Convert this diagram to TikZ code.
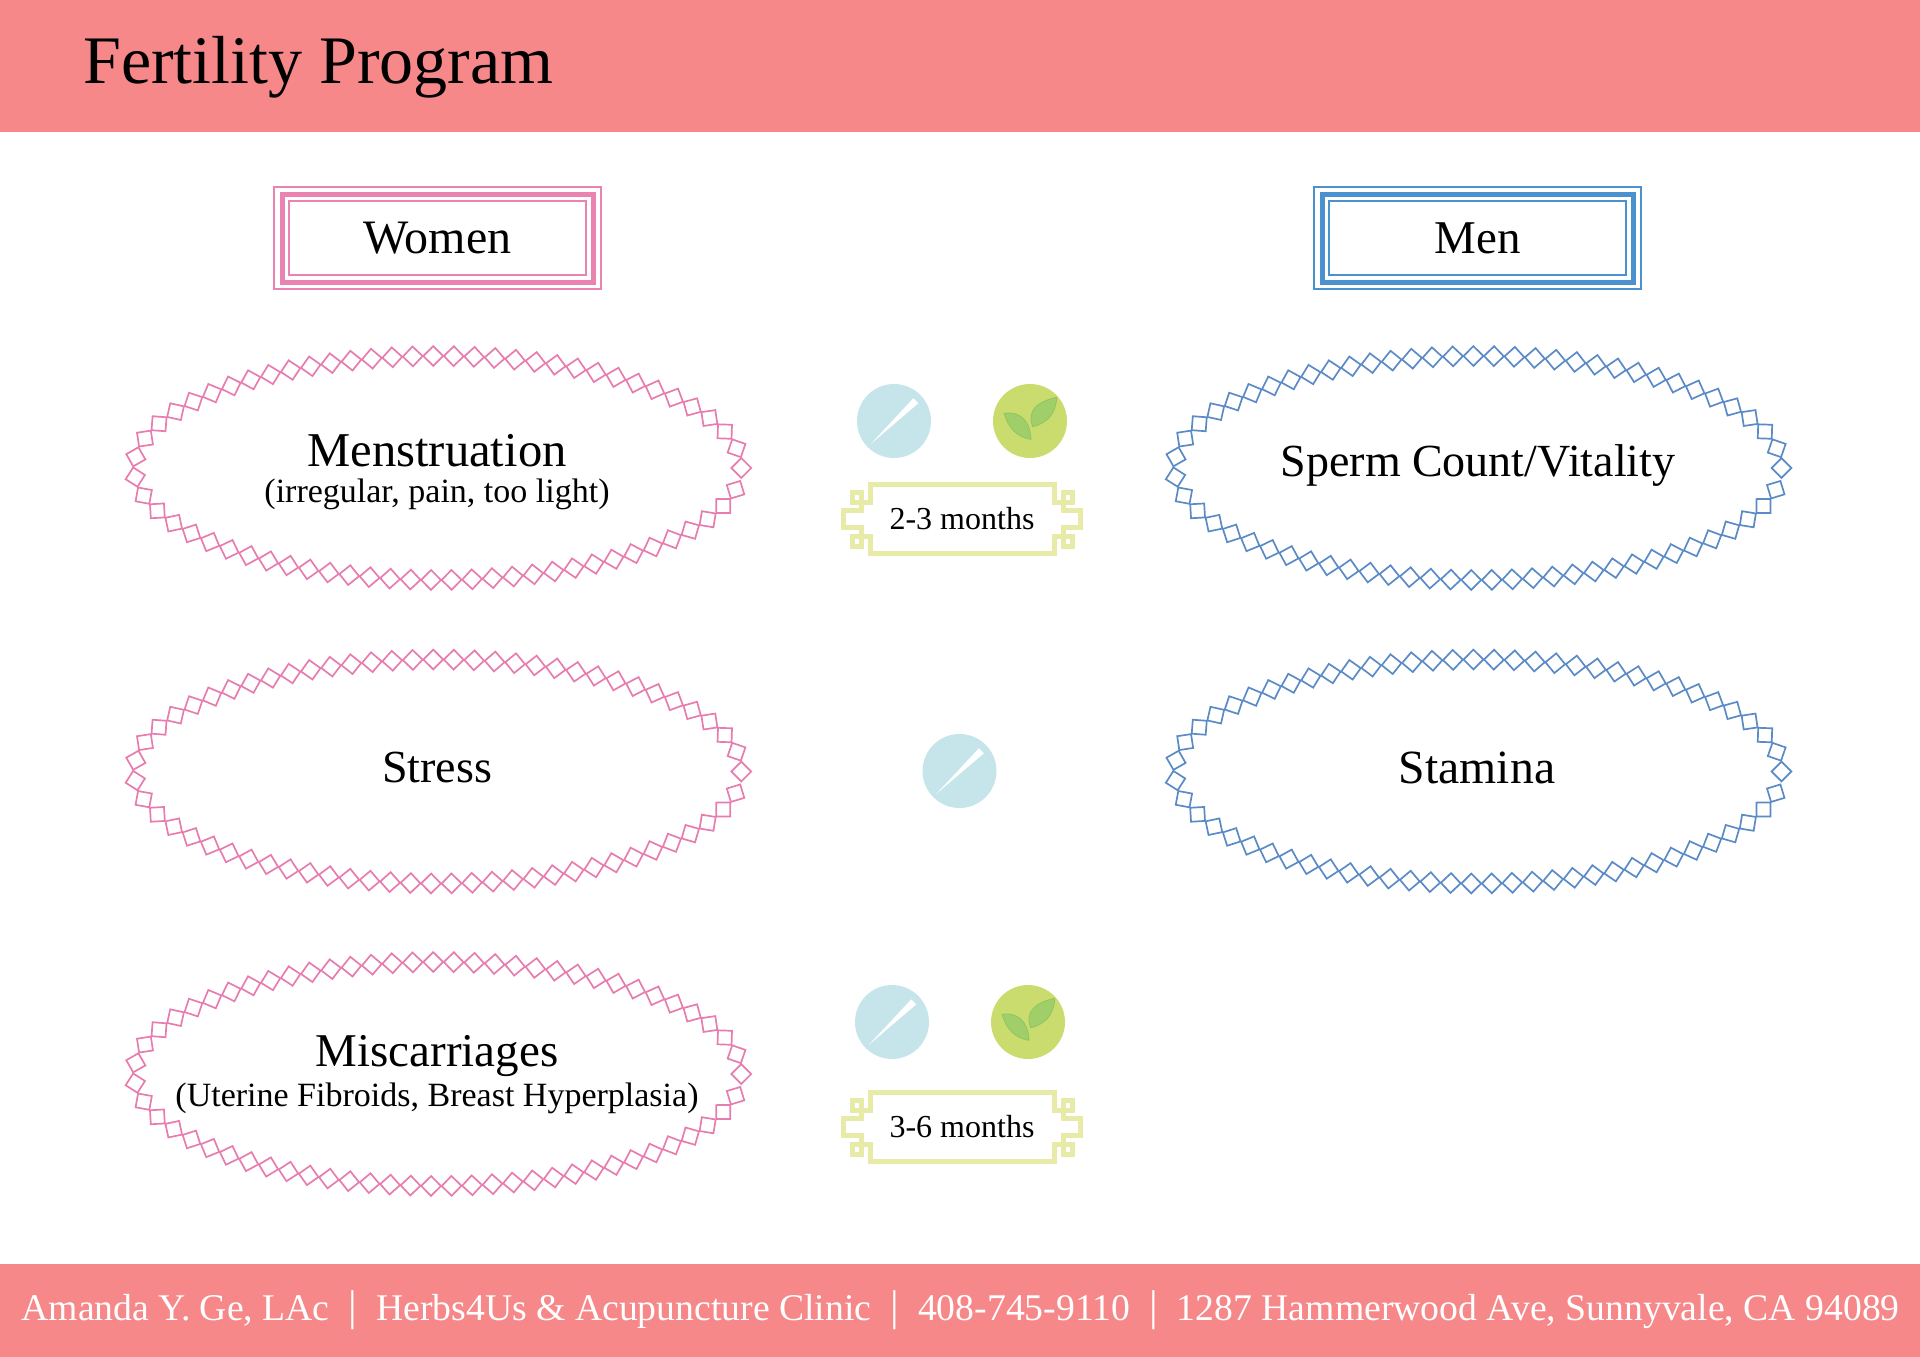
\documentclass[tikz,border=0pt]{standalone}
\usepackage{fontspec}
\setmainfont{Liberation Serif}
\usetikzlibrary{shapes.geometric}
\definecolor{banner}{HTML}{F6888A}
\definecolor{pinkring}{HTML}{E77DAF}
\definecolor{bluering}{HTML}{5B8BC6}
\definecolor{pinkbox}{HTML}{EA82B2}
\definecolor{bluebox}{HTML}{4A92CF}
\definecolor{pillblue}{HTML}{C5E5EA}
\definecolor{leafgreen}{HTML}{CADC6E}
\definecolor{leafdark}{HTML}{A0CF6A}
\definecolor{leafedge}{HTML}{8FC560}
\definecolor{framey}{HTML}{E8EBA8}
\newcommand{\fs}[1]{\fontsize{#1}{#1}\selectfont}
\newcommand{\sepbar}{\hspace{19pt}{\fs{43}|}\hspace{19pt}}
% one ring of corner-to-corner squares, spaced by equal arc length round an ellipse
\newcommand{\ringsquares}[2]{%
  \gdef\curt{0}%
  \foreach \k in {1,...,67}{%
    \pgfmathsetmacro\ang{atan2(1.12*cos(\curt),-3.035*sin(\curt))}%
    \pgfmathsetmacro\px{303.5*cos(\curt)}%
    \pgfmathsetmacro\py{-112*sin(\curt)}%
    \draw[draw=#2,line width=1.7pt,line join=miter,shift={(#1)},shift={(\px,\py)},rotate=\ang]
      (-9.9pt,0pt)--(0pt,9.9pt)--(9.9pt,0pt)--(0pt,-9.9pt)--cycle;
    \foreach \s in {1,2,3,4}{%
      \pgfmathsetmacro\tm{\curt+1.4682/sqrt(pow(3.035*sin(\curt),2)+pow(1.12*cos(\curt),2))}%
      \pgfmathsetmacro\tn{\curt+2.9364/sqrt(pow(3.035*sin(\tm),2)+pow(1.12*cos(\tm),2))}%
      \xdef\curt{\tn}%
    }%
  }%
}
\tikzset{
  ringbase/.style={ellipse,inner sep=0pt,minimum width=607pt,minimum height=224pt},
  big/.style={inner sep=0pt,text=black,font=\fs{#1}},
  small/.style={inner sep=0pt,text=black,font=\fs{34}},
  boxa/.style={draw=#1,line width=2pt,minimum width=326.5pt,minimum height=102pt,inner sep=0pt},
  boxb/.style={draw=#1,line width=5pt,minimum width=311pt,minimum height=88pt,inner sep=0pt},
  boxc/.style={draw=#1,line width=2.4pt,minimum width=297.5pt,minimum height=74pt,inner sep=0pt,text=black},
  dot/.style={circle,inner sep=0pt,minimum size=74pt},
  pill/.pic={
    \node[dot,fill=pillblue] (-disc) at (0,0) {};
    \fill[white] (-23.3,23) -- (19.3,-22.7) -- (24.3,-17.7) -- cycle;
  },
  herb/.pic={
    \node[dot,fill=leafgreen] (-disc) at (0,0) {};
    \filldraw[fill=leafdark,draw=leafedge,line width=.8pt] (-26,-7.7) .. controls (-12,-10) and (0,-2) .. (1,18.3) .. controls (-14,16) and (-22,6) .. cycle;
    \filldraw[fill=leafdark,draw=leafedge,line width=.8pt] (26.7,-23.7) .. controls (10,-20) and (-4,-12) .. (2.7,5.7) .. controls (18,2) and (26,-8) .. cycle;
  },
  frameline/.style={draw=framey,line width=5pt,line join=miter},
  fmonths/.pic={
    \draw[frameline] (-92,-34.5)--(92,-34.5)--(92,-16.5)--(110,-16.5)--(110,-26.5)--(101,-26.5)--(101,-8.5)--(118.5,-8.5)--(118.5,8.5)--(101,8.5)--(101,27.5)--(110,27.5)--(110,17.5)--(92,17.5)--(92,34.5)--(-92,34.5)--(-92,17.5)--(-110,17.5)--(-110,27.5)--(-101,27.5)--(-101,8.5)--(-118.5,8.5)--(-118.5,-8.5)--(-101,-8.5)--(-101,-26.5)--(-110,-26.5)--(-110,-16.5)--(-92,-16.5)--cycle;
  }
}
\begin{document}
\begin{tikzpicture}[x=1pt,y=-1pt]
\useasboundingbox (0,0) rectangle (1920,1357);
\fill[banner] (0,0) rectangle (1920,132);
\fill[banner] (0,1264) rectangle (1920,1357);
\node[anchor=base west,inner sep=0pt,font=\fs{68}] (title) at (83,83) {Fertility Program};
\node[anchor=base,inner sep=0pt,text=white,font=\fs{37.7}] (foot) at (960.6,1320) {Amanda Y. Ge, LAc\sepbar Herbs4Us \& Acupuncture Clinic\sepbar 408-745-9110\sepbar 1287 Hammerwood Ave, Sunnyvale, CA 94089};

\node[boxa=pinkbox] (wa) at (437.5,238.3) {};
\node[boxb=pinkbox] (wb) at (437.5,238.3) {};
\node[boxc=pinkbox,font=\fs{48}] (wc) at (437.5,238) {Women};
\node[boxa=bluebox] (ma) at (1477.5,238.3) {};
\node[boxb=bluebox] (mb) at (1477.5,238.3) {};
\node[boxc=bluebox,font=\fs{47}] (mc) at (1477.5,238) {Men};

\node[ringbase] (r1) at (437.8,468) {};
\node[ringbase] (r2) at (437.8,771.5) {};
\node[ringbase] (r3) at (437.8,1074) {};
\node[ringbase] (r4) at (1478,468) {};
\node[ringbase] (r5) at (1478,771.5) {};
\ringsquares{r1.center}{pinkring}
\ringsquares{r2.center}{pinkring}
\ringsquares{r3.center}{pinkring}
\ringsquares{r4.center}{bluering}
\ringsquares{r5.center}{bluering}

\node[big=48.6,anchor=base] (t1) at (437,466) {Menstruation};
\node[small,anchor=base] (t1b) at (437,502) {(irregular, pain, too light)};
\node[big=46,anchor=base] (t2) at (437,782) {Stress};
\node[big=47,anchor=base] (t3) at (437,1066) {Miscarriages};
\node[small,anchor=base] (t3b) at (437,1106) {(Uterine Fibroids, Breast Hyperplasia)};
\node[big=46,anchor=base] (t4) at (1478,476) {Sperm Count/Vitality};
\node[big=47.7,anchor=base] (t5) at (1477,783) {Stamina};

\pic (p1) at (894,421) {pill};
\pic (h1) at (1030,421) {herb};
\pic (p2) at (959.5,771) {pill};
\pic (p3) at (892,1022) {pill};
\pic (h3) at (1028,1022) {herb};
\pic (f1) at (962,518.5) {fmonths};
\pic (f3) at (962,1126.5) {fmonths};
\node[inner sep=0pt,anchor=base,font=\fs{32}] (m1) at (962,529) {2-3 months};
\node[inner sep=0pt,anchor=base,font=\fs{32}] (m3) at (962,1137) {3-6 months};
\end{tikzpicture}
\end{document}
